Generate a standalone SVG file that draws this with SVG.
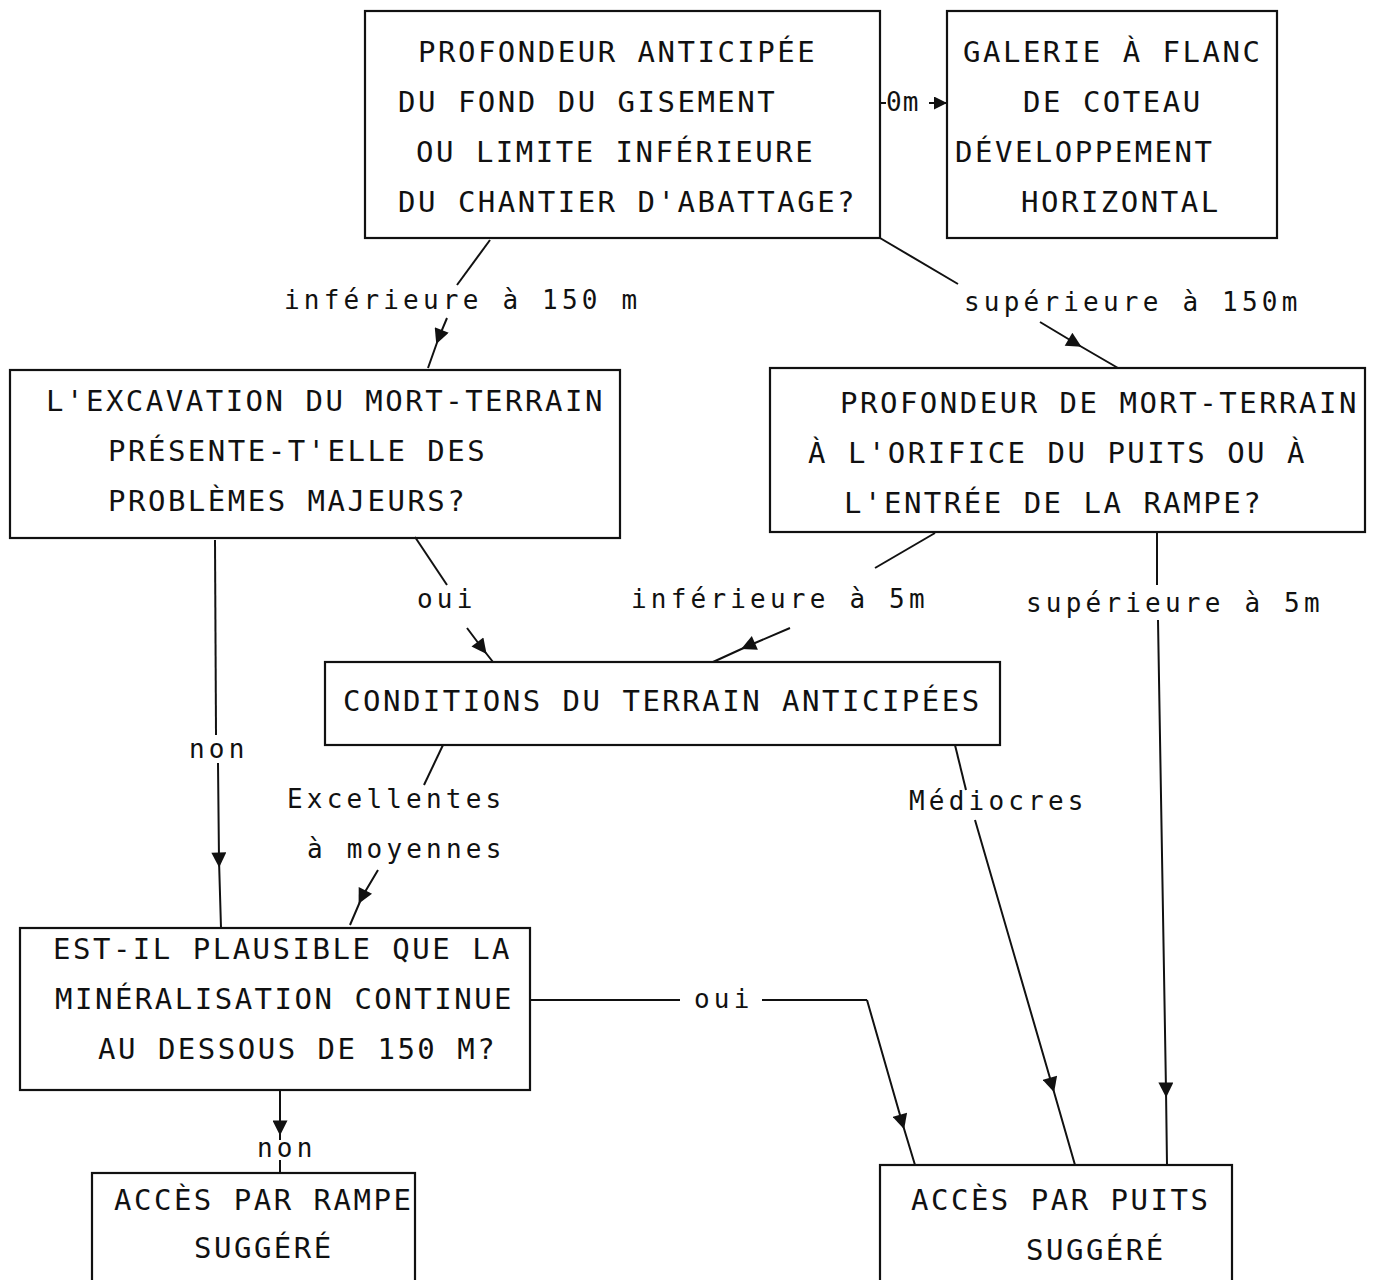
<svg xmlns="http://www.w3.org/2000/svg" width="1380" height="1280" viewBox="0 0 1380 1280">
<style>
.box{fill:none;stroke:#111;stroke-width:2.2}
.t{font-family:"DejaVu Sans Mono","Liberation Mono",monospace;font-size:29px;letter-spacing:2.5px;fill:#111}
.l{font-family:"DejaVu Sans Mono","Liberation Mono",monospace;font-size:26px;letter-spacing:4.2px;fill:#111}
.c{fill:none;stroke:#111;stroke-width:2}
</style>
<defs>
<marker id="ah" viewBox="0 0 10 10" refX="5" refY="5" markerWidth="17" markerHeight="15" markerUnits="userSpaceOnUse" orient="auto">
<path d="M0,0 L10,5 L0,10 z" fill="#111"/>
</marker>
<marker id="ae" viewBox="0 0 10 10" refX="10" refY="5" markerWidth="13" markerHeight="13" markerUnits="userSpaceOnUse" orient="auto">
<path d="M0,0 L10,5 L0,10 z" fill="#111"/>
</marker>
</defs>
<rect width="1380" height="1280" fill="#fff"/>

<g id="connectors">
<path class="c" d="M490,240 L457,285"/>
<path class="c" d="M447,318 L439,337 L428,368" marker-mid="url(#ah)"/>
<text class="l" x="284" y="309">inférieure à 150 m</text>

<path class="c" d="M880,238 L958,284"/>
<path class="c" d="M1040,322 L1075,343 L1118,368" marker-mid="url(#ah)"/>
<text class="l" x="964" y="311">supérieure à 150m</text>

<path class="c" d="M880,103 L886,103"/>
<text class="l" x="886" y="111" style="letter-spacing:1px">0m</text>
<path class="c" d="M929,103 L947,103" marker-end="url(#ae)"/>

<path class="c" d="M415,537 L447,585"/>
<path class="c" d="M467,628 L482,648 L493,662" marker-mid="url(#ah)"/>
<text class="l" x="417" y="608">oui</text>

<path class="c" d="M935,533 L875,568"/>
<path class="c" d="M790,628 L748,646 L713,662" marker-mid="url(#ah)"/>
<text class="l" x="631" y="608">inférieure à 5m</text>

<path class="c" d="M1157,533 L1157,585"/>
<path class="c" d="M1158,620 L1166,1090 L1167,1165" marker-mid="url(#ah)"/>
<text class="l" x="1026" y="612">supérieure à 5m</text>

<path class="c" d="M215,540 L216,735"/>
<path class="c" d="M218,763 L219,860 L221,928" marker-mid="url(#ah)"/>
<text class="l" x="189" y="758">non</text>

<path class="c" d="M443,745 L424,785"/>
<path class="c" d="M378,870 L362,897 L350,925" marker-mid="url(#ah)"/>
<text class="l" x="287" y="808">Excellentes</text>
<text class="l" x="307" y="858">à moyennes</text>

<path class="c" d="M955,745 L966,790"/>
<path class="c" d="M975,820 L1052,1085 L1075,1165" marker-mid="url(#ah)"/>
<text class="l" x="909" y="810">Médiocres</text>

<path class="c" d="M530,1000 L680,1000"/>
<path class="c" d="M762,1000 L867,1000"/>
<path class="c" d="M867,1000 L902,1122 L915,1165" marker-mid="url(#ah)"/>
<text class="l" x="694" y="1008">oui</text>

<path class="c" d="M280,1090 L280,1128 L280,1140" marker-mid="url(#ah)"/>
<path class="c" d="M280,1160 L280,1173"/>
<text class="l" x="257" y="1157">non</text>
</g>

<g id="n1">
<rect class="box" x="365" y="11" width="515" height="227"/>
<text class="t" x="418" y="62">PROFONDEUR ANTICIPÉE</text>
<text class="t" x="398" y="112">DU FOND DU GISEMENT</text>
<text class="t" x="416" y="162">OU LIMITE INFÉRIEURE</text>
<text class="t" x="398" y="212">DU CHANTIER D'ABATTAGE?</text>
</g>

<g id="n2">
<rect class="box" x="947" y="11" width="330" height="227"/>
<text class="t" x="963" y="62">GALERIE À FLANC</text>
<text class="t" x="1023" y="112">DE COTEAU</text>
<text class="t" x="955" y="162">DÉVELOPPEMENT</text>
<text class="t" x="1021" y="212">HORIZONTAL</text>
</g>

<g id="n3">
<rect class="box" x="10" y="370" width="610" height="168"/>
<text class="t" x="46" y="411">L'EXCAVATION DU MORT-TERRAIN</text>
<text class="t" x="108" y="461">PRÉSENTE-T'ELLE DES</text>
<text class="t" x="108" y="511">PROBLÈMES MAJEURS?</text>
</g>

<g id="n4">
<rect class="box" x="770" y="368" width="595" height="164"/>
<text class="t" x="840" y="413">PROFONDEUR DE MORT-TERRAIN</text>
<text class="t" x="808" y="463">À L'ORIFICE DU PUITS OU À</text>
<text class="t" x="844" y="513">L'ENTRÉE DE LA RAMPE?</text>
</g>

<g id="n5">
<rect class="box" x="325" y="662" width="675" height="83"/>
<text class="t" x="343" y="711">CONDITIONS DU TERRAIN ANTICIPÉES</text>
</g>

<g id="n6">
<rect class="box" x="20" y="928" width="510" height="162"/>
<text class="t" x="53" y="959">EST-IL PLAUSIBLE QUE LA</text>
<text class="t" x="55" y="1009">MINÉRALISATION CONTINUE</text>
<text class="t" x="98" y="1059">AU DESSOUS DE 150 M?</text>
</g>

<g id="n7">
<rect class="box" x="92" y="1173" width="323" height="130"/>
<text class="t" x="114" y="1210">ACCÈS PAR RAMPE</text>
<text class="t" x="194" y="1258">SUGGÉRÉ</text>
</g>

<g id="n8">
<rect class="box" x="880" y="1165" width="352" height="140"/>
<text class="t" x="911" y="1210">ACCÈS PAR PUITS</text>
<text class="t" x="1026" y="1260">SUGGÉRÉ</text>
</g>
</svg>
